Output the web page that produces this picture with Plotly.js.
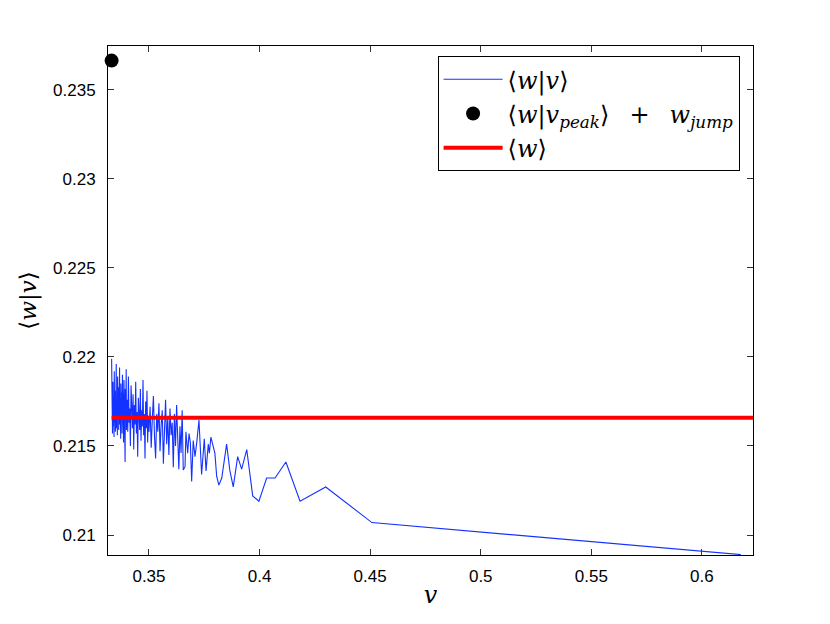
<!DOCTYPE html>
<html>
<head>
<meta charset="utf-8">
<script src="https://cdn.plot.ly/plotly-3.0.1.min.js"></script>
<style>html,body{margin:0;padding:0;background:#fff;}#chart{width:830px;height:624px;}</style>
</head>
<body>
<div id="chart"></div>
<script>
// conditional mean <w|v> : v values
const vValues = [
  0.3331, 0.3335, 0.3337, 0.3338, 0.3340, 0.3342, 0.3343, 0.3345, 0.3347, 0.3348,
  0.3350, 0.3352, 0.3353, 0.3355, 0.3357, 0.3358, 0.3360, 0.3362, 0.3363, 0.3365,
  0.3367, 0.3368, 0.3370, 0.3372, 0.3373, 0.3375, 0.3377, 0.3378, 0.3380, 0.3382,
  0.3383, 0.3385, 0.3387, 0.3388, 0.3390, 0.3392, 0.3393, 0.3395, 0.3397, 0.3398,
  0.3401, 0.3404, 0.3407, 0.3410, 0.3413, 0.3416, 0.3419, 0.3422, 0.3425, 0.3428,
  0.3431, 0.3434, 0.3437, 0.3440, 0.3443, 0.3446, 0.3449, 0.3452, 0.3455, 0.3458,
  0.3461, 0.3464, 0.3467, 0.3470, 0.3473, 0.3476, 0.3479, 0.3482, 0.3485, 0.3488,
  0.3491, 0.3494, 0.3497, 0.3500,
  0.3505, 0.3510, 0.3515, 0.3520, 0.3525, 0.3530, 0.3535, 0.3540, 0.3545, 0.3550,
  0.3555, 0.3560, 0.3565, 0.3570, 0.3575, 0.3580, 0.3585, 0.3590, 0.3595, 0.3600,
  0.3605, 0.3610, 0.3615, 0.3620, 0.3625, 0.3630, 0.3635, 0.3640, 0.3645, 0.3650,
  0.3655, 0.3663, 0.3667, 0.3675, 0.3681, 0.3687, 0.3693, 0.3700, 0.3708, 0.3716,
  0.3726, 0.3738, 0.3750, 0.3758, 0.3768, 0.3773, 0.3780, 0.3798, 0.3806, 0.3816,
  0.3829, 0.3851, 0.3866, 0.3881, 0.3901, 0.3919, 0.3942,
  0.3969, 0.3997, 0.4032, 0.4070, 0.4119, 0.4183, 0.4299, 0.4508, 0.6176
];
// <w|v> values
const wGivenV = [
  0.2199, 0.2157, 0.2186, 0.2161, 0.2178, 0.2155, 0.2192, 0.2163, 0.2181, 0.2158,
  0.2170, 0.2196, 0.2160, 0.2175, 0.2156, 0.2189, 0.2166, 0.2183, 0.2159, 0.2172,
  0.2194, 0.2162, 0.2177, 0.2154, 0.2185, 0.2168, 0.2180, 0.2157, 0.2190, 0.2164,
  0.2174, 0.2152, 0.2187, 0.2161, 0.2179, 0.2141, 0.2182, 0.2165, 0.2193, 0.2159,
  0.2176, 0.2158, 0.2189, 0.2163, 0.2171, 0.2150, 0.2184, 0.2166, 0.2160, 0.2179,
  0.2148, 0.2173, 0.2162, 0.2186, 0.2157, 0.2169, 0.2144, 0.2177, 0.2164, 0.2159,
  0.2182, 0.2153, 0.2170, 0.2161, 0.2187, 0.2156, 0.2168, 0.2143, 0.2175, 0.2160,
  0.2181, 0.2152, 0.2167, 0.2158,
  0.2172, 0.2149, 0.2165, 0.2178, 0.2155, 0.2143, 0.2168, 0.2158, 0.2174, 0.2147,
  0.2162, 0.2170, 0.2140, 0.2160, 0.2176, 0.2151, 0.2166, 0.2145, 0.2171, 0.2156,
  0.2163, 0.2138, 0.2168, 0.2150, 0.2173, 0.2154, 0.2137, 0.2161, 0.2146, 0.2170,
  0.21365, 0.21384, 0.2158, 0.2146, 0.2157, 0.2152, 0.2130, 0.2153, 0.2144, 0.2152,
  0.21646, 0.2134, 0.2154, 0.2136, 0.2151, 0.2146, 0.2155, 0.2146, 0.2133, 0.2128,
  0.2132, 0.2151, 0.2136, 0.2127, 0.2144, 0.2137, 0.2148,
  0.2122, 0.2119, 0.2132, 0.2132, 0.2141, 0.2119, 0.2127, 0.2107, 0.2089
];
// peak point
const peakV = [0.3331];
const peakW = [0.23663];
// overall mean <w>
const meanW = 0.21659;
const meanSpanV = [0.3331, 0.6240];

const xTicks = [0.35, 0.4, 0.45, 0.5, 0.55, 0.6];
const yTicks = [0.21, 0.215, 0.22, 0.225, 0.23, 0.235];

const serif = "DejaVu Serif, Liberation Serif, serif";
const sans = "Liberation Sans, Arial, Helvetica, sans-serif";
const nb = "\u00a0";
const th = "\u2009";

const traces = [
  {
    x: vValues, y: wGivenV, type: "scatter", mode: "lines",
    name: "⟨<i>w</i>|<i>v</i>⟩",
    line: {color: "rgb(20,50,255)", width: 1.1}
  },
  {
    x: peakV, y: peakW, type: "scatter", mode: "markers",
    name: "⟨<i>w</i>|<i>v<sub>peak</sub></i>⟩" + nb + nb + th + "+" + th + nb + nb + "<i>w<sub>jump</sub></i>",
    marker: {color: "black", size: 14},
    cliponaxis: false
  },
  {
    x: meanSpanV, y: [meanW, meanW], type: "scatter", mode: "lines",
    name: "⟨<i>w</i>⟩",
    line: {color: "rgb(255,0,0)", width: 4}
  }
];

const layout = {
  width: 830, height: 624,
  margin: {l: 108, r: 77, t: 46, b: 69, pad: 0},
  paper_bgcolor: "#fff", plot_bgcolor: "#fff",
  showlegend: true,
  legend: {
    x: 0.511, y: 0.98, xanchor: "left", yanchor: "top",
    bgcolor: "#fff", bordercolor: "#000", borderwidth: 1,
    font: {family: serif, size: 24, color: "#000"},
    itemwidth: 59
  },
  xaxis: {
    range: [0.33147, 0.6231],
    tickvals: xTicks,
    ticks: "inside", ticklen: 6, tickcolor: "#333", tickwidth: 1,
    showline: true, linecolor: "#000", linewidth: 1, mirror: "allticks",
    showgrid: false, zeroline: false,
    tickfont: {family: sans, size: 17, color: "#000"},
    ticklabelstandoff: 6,
    title: {text: "<i>v</i>", font: {family: serif, size: 24, color: "#000"}, standoff: 0}
  },
  yaxis: {
    range: [0.20888, 0.23745],
    tickvals: yTicks,
    ticks: "inside", ticklen: 6, tickcolor: "#333", tickwidth: 1,
    showline: true, linecolor: "#000", linewidth: 1, mirror: "allticks",
    showgrid: false, zeroline: false,
    tickfont: {family: sans, size: 17, color: "#000"},
    ticklabelstandoff: 8,
    title: {text: "⟨<i>w</i>|<i>v</i>⟩", font: {family: serif, size: 23, color: "#000"}, standoff: 10}
  }
};

Plotly.newPlot("chart", traces, layout, {displayModeBar: false, staticPlot: true});
</script>
</body>
</html>
